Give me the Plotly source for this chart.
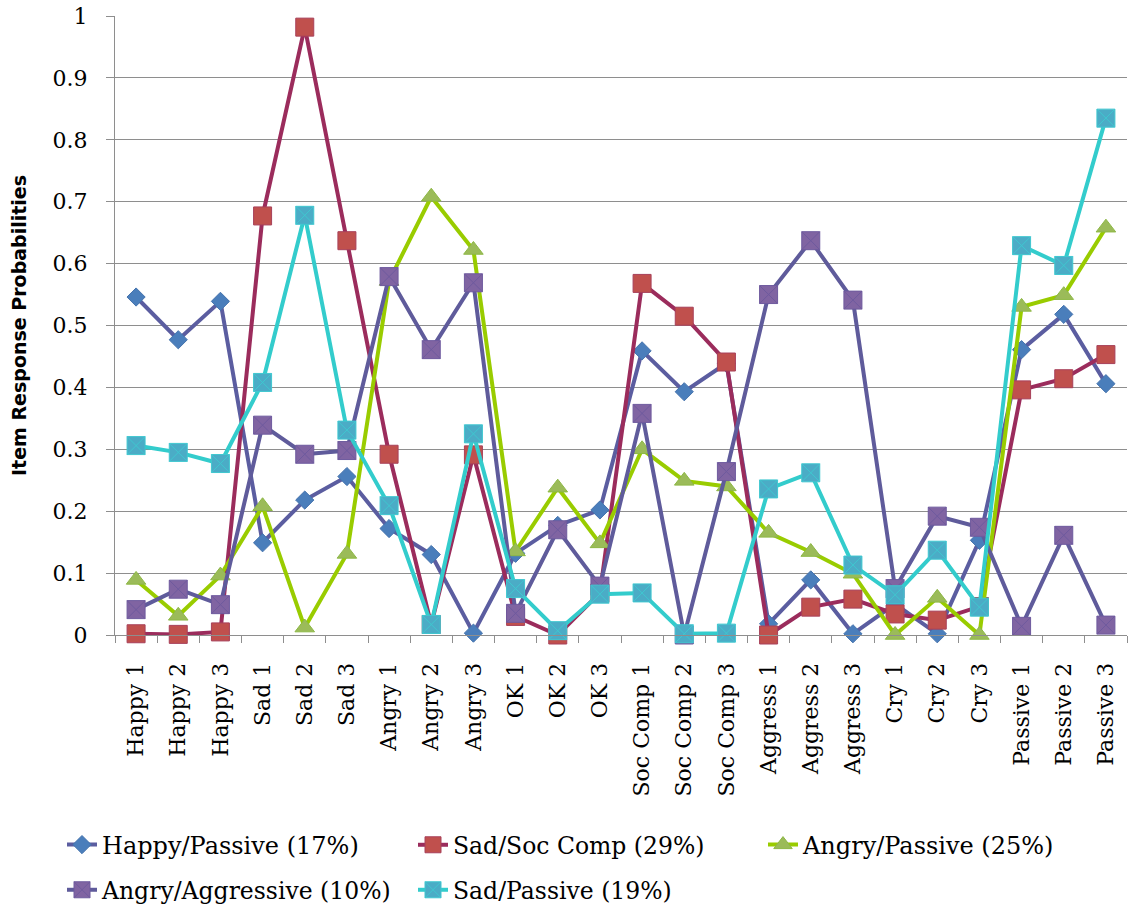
import plotly.graph_objects as go

categories = ["Happy 1", "Happy 2", "Happy 3", "Sad 1", "Sad 2", "Sad 3",
              "Angry 1", "Angry 2", "Angry 3", "OK 1", "OK 2", "OK 3",
              "Soc Comp 1", "Soc Comp 2", "Soc Comp 3",
              "Aggress 1", "Aggress 2", "Aggress 3",
              "Cry 1", "Cry 2", "Cry 3", "Passive 1", "Passive 2", "Passive 3"]

happy_passive = [0.546, 0.477, 0.539, 0.149, 0.218, 0.256, 0.172, 0.130, 0.003,
                 0.132, 0.177, 0.202, 0.459, 0.393, 0.439, 0.018, 0.089, 0.002,
                 0.050, 0.002, 0.153, 0.461, 0.518, 0.406]
sad_soccomp = [0.002, 0.001, 0.005, 0.677, 0.982, 0.637, 0.292, 0.017, 0.291,
               0.030, 0.000, 0.068, 0.568, 0.515, 0.441, 0.000, 0.045, 0.058,
               0.034, 0.024, 0.046, 0.396, 0.414, 0.453]
angry_passive = [0.089, 0.031, 0.096, 0.208, 0.012, 0.131, 0.572, 0.708, 0.622,
                 0.135, 0.238, 0.148, 0.300, 0.249, 0.240, 0.165, 0.134, 0.099,
                 0.000, 0.060, 0.000, 0.530, 0.549, 0.658]
angry_aggressive = [0.041, 0.074, 0.049, 0.339, 0.292, 0.298, 0.579, 0.461, 0.569,
                    0.035, 0.170, 0.079, 0.358, 0.000, 0.264, 0.550, 0.637, 0.541,
                    0.075, 0.192, 0.174, 0.014, 0.161, 0.016]
sad_passive = [0.306, 0.295, 0.277, 0.408, 0.678, 0.331, 0.209, 0.017, 0.325,
               0.075, 0.007, 0.066, 0.068, 0.002, 0.003, 0.236, 0.262, 0.113,
               0.065, 0.137, 0.045, 0.629, 0.597, 0.835]

series_names = ["Happy/Passive (17%)", "Sad/Soc Comp (29%)", "Angry/Passive (25%)",
                "Angry/Aggressive (10%)", "Sad/Passive (19%)"]

y_tickvals = [0, 0.1, 0.2, 0.3, 0.4, 0.5, 0.6, 0.7, 0.8, 0.9, 1]
y_ticktext = ["0", "0.1", "0.2", "0.3", "0.4", "0.5", "0.6", "0.7", "0.8", "0.9", "1"]

styles = [
    dict(line="#5B5DA0", fill="#4A7EBB", edge="#4573AD", symbol="diamond", size=14),
    dict(line="#9B2C5C", fill="#C0504D", edge="#A8405A", symbol="square", size=18),
    dict(line="#99CC00", fill="#9BBB59", edge="#8DB845", symbol="triangle-up", size=17),
    dict(line="#5F5B9B", fill="#8064A2", edge="#6E5A9E", symbol="square-x", size=18),
    dict(line="#33CCCC", fill="#4BACC6", edge="#3FC7D0", symbol="square-x", size=18),
]
legend_ids = ["legend", "legend2", "legend3", "legend4", "legend5"]
all_series = [happy_passive, sad_soccomp, angry_passive, angry_aggressive, sad_passive]

fig = go.Figure()
for name, vals, st, lg in zip(series_names, all_series, styles, legend_ids):
    fig.add_trace(go.Scatter(
        x=categories, y=vals, name=name, mode="lines+markers",
        line=dict(color=st["line"], width=4),
        marker=dict(symbol=st["symbol"], size=st["size"], color=st["fill"],
                    line=dict(color=st["edge"], width=1)),
        cliponaxis=False, legend=lg,
    ))

grey = "#8E8E8E"
W, H = 1129, 911
L, R, T, B = 115, 2, 16, 276

legend_pos = [(62, 845, 24), (413, 845, 23.5), (763, 845, 24), (62, 890, 23.5), (413, 890, 23.5)]
legend_layout = {}
for lg, (lx, ly, fs) in zip(legend_ids, legend_pos):
    legend_layout[lg] = dict(x=lx / W, y=1 - ly / H, xref="container", yref="container",
                             xanchor="left", yanchor="middle",
                             orientation="h", itemsizing="trace",
                             font=dict(family="DejaVu Serif", size=fs, color="black"),
                             bgcolor="rgba(0,0,0,0)", borderwidth=0)

fig.update_layout(
    width=W, height=H,
    margin=dict(l=L, r=R, t=T, b=B, autoexpand=False),
    paper_bgcolor="white", plot_bgcolor="white",
    showlegend=True,
    **legend_layout,
)
fig.update_xaxes(
    type="category", range=[-0.5, len(categories) - 0.5],
    tickson="boundaries", ticks="outside", ticklen=7,
    tickcolor=grey, showline=True, linecolor=grey, linewidth=1,
    tickangle=-90, tickfont=dict(family="DejaVu Serif", size=22, color="black"),
    ticklabelstandoff=18, showgrid=False, automargin=False,
)
fig.update_yaxes(
    range=[0, 1], tickvals=y_tickvals, ticktext=y_ticktext,
    ticks="outside", ticklen=8, tickcolor=grey,
    showline=True, linecolor=grey, linewidth=1,
    showgrid=True, gridcolor=grey, gridwidth=1, zeroline=False,
    tickfont=dict(family="DejaVu Serif", size=22, color="black"),
    ticklabelstandoff=14, automargin=False,
    title=dict(text="<b>Item Response Probabilities</b>",
               font=dict(family="DejaVu Sans", size=19, color="black"),
               standoff=20),
)

fig.write_html("out.html", config={"displayModeBar": False},
               post_script="document.body.style.margin='0';")
